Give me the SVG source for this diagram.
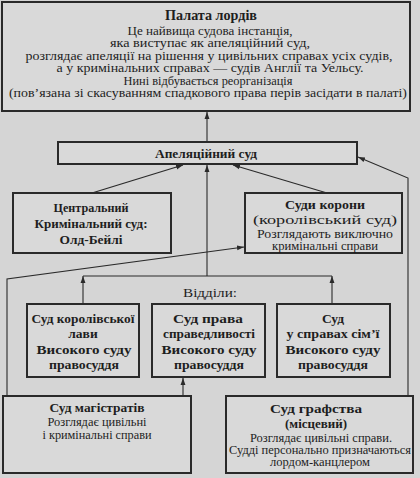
<svg xmlns="http://www.w3.org/2000/svg" width="420" height="478" viewBox="0 0 420 478">
<defs>
<style>
.bg{fill:#d5d5d5}
.box{fill:#d9d9d9;stroke:#2a2a2a;stroke-width:2}
.ln{fill:none;stroke:#2a2a2a;stroke-width:1.1}
text{font-family:'Liberation Serif','Times New Roman','DejaVu Serif',serif;fill:#1e1e1e;text-anchor:middle}
.t{font-size:14px;font-weight:bold}
.r{font-size:12.5px}
.s{font-size:11.5px}
.b{font-size:13.5px;font-weight:bold}
</style>
<marker id="ar" viewBox="0 0 10 10" refX="10" refY="5" markerWidth="7" markerHeight="7" orient="auto" markerUnits="userSpaceOnUse">
<path d="M0,1.5 L10,5 L0,8.5 Z" fill="#2a2a2a"/>
</marker>
</defs>
<rect class="bg" x="0" y="0" width="420" height="478"/>

<g id="connectors">
<line class="ln" x1="207" y1="142" x2="207" y2="112" marker-end="url(#ar)"/>
<line class="ln" x1="92" y1="193" x2="183" y2="165" marker-end="url(#ar)"/>
<line class="ln" x1="327" y1="193" x2="233" y2="165" marker-end="url(#ar)"/>
<line class="ln" x1="207" y1="276" x2="207" y2="165" marker-end="url(#ar)"/>
<line class="ln" x1="83" y1="276" x2="332" y2="276"/>
<line class="ln" x1="83" y1="304" x2="83" y2="276" marker-end="url(#ar)"/>
<line class="ln" x1="332" y1="304" x2="332" y2="276" marker-end="url(#ar)"/>
<polyline class="ln" points="7,396 7,279 244,247" marker-end="url(#ar)"/>
<line class="ln" x1="183" y1="396" x2="183" y2="378" marker-end="url(#ar)"/>
<polyline class="ln" points="408,396 408,178 358,157" marker-end="url(#ar)"/>
</g>

<g id="palata">
<rect class="box" x="2" y="2" width="408" height="109"/>
<text class="t" x="211" y="20" textLength="92" lengthAdjust="spacingAndGlyphs">Палата лордів</text>
<text class="r" x="210" y="34.5" textLength="165" lengthAdjust="spacingAndGlyphs">Це найвища судова інстанція,</text>
<text class="r" x="210" y="47" textLength="200" lengthAdjust="spacingAndGlyphs">яка виступає як апеляційний суд,</text>
<text class="r" x="209" y="59.5" textLength="367" lengthAdjust="spacingAndGlyphs">розглядає апеляції на рішення у цивільних справах усіх судів,</text>
<text class="r" x="210" y="72" textLength="307" lengthAdjust="spacingAndGlyphs">а у кримінальних справах — судів Англії та Уельсу.</text>
<text class="r" x="208" y="84.5" textLength="169" lengthAdjust="spacingAndGlyphs">Нині відбувається реорганізація</text>
<text class="r" x="208" y="97" textLength="398" lengthAdjust="spacingAndGlyphs">(пов’язана зі скасуванням спадкового права перів засідати в палаті)</text>
</g>

<g id="apel">
<rect class="box" x="58" y="142" width="299" height="22"/>
<text class="b" x="206" y="158" textLength="102" lengthAdjust="spacingAndGlyphs">Апеляційний суд</text>
</g>

<g id="central">
<rect class="box" x="13" y="193" width="158" height="60"/>
<text class="b" x="91" y="212" textLength="75" lengthAdjust="spacingAndGlyphs">Центральний</text>
<text class="b" x="91" y="228" textLength="113" lengthAdjust="spacingAndGlyphs">Кримінальний суд:</text>
<text class="b" x="91" y="244" textLength="63" lengthAdjust="spacingAndGlyphs">Олд-Бейлі</text>
</g>

<g id="korony">
<rect class="box" x="245" y="193" width="157" height="60"/>
<text class="b" x="325" y="209" textLength="80" lengthAdjust="spacingAndGlyphs">Суди корони</text>
<text class="r" x="325" y="224" style="font-size:13.5px" textLength="144" lengthAdjust="spacingAndGlyphs">(королівський суд)</text>
<text class="s" x="325" y="238" textLength="136" lengthAdjust="spacingAndGlyphs">Розглядають виключно</text>
<text class="s" x="325" y="250" textLength="106" lengthAdjust="spacingAndGlyphs">кримінальні справи</text>
</g>

<text class="r" x="210" y="297" style="font-size:13.5px" textLength="54" lengthAdjust="spacingAndGlyphs">Відділи:</text>

<g id="kings-bench">
<rect class="box" x="27" y="304" width="112" height="73"/>
<text class="b" x="83" y="323" textLength="103" lengthAdjust="spacingAndGlyphs">Суд королівської</text>
<text class="b" x="83" y="338">лави</text>
<text class="b" x="84" y="354" textLength="95" lengthAdjust="spacingAndGlyphs">Високого суду</text>
<text class="b" x="84" y="369" textLength="70" lengthAdjust="spacingAndGlyphs">правосуддя</text>
</g>

<g id="chancery">
<rect class="box" x="152" y="304" width="113" height="73"/>
<text class="b" x="208" y="323" textLength="70" lengthAdjust="spacingAndGlyphs">Суд права</text>
<text class="b" x="209" y="338" textLength="92" lengthAdjust="spacingAndGlyphs">справедливості</text>
<text class="b" x="209" y="354" textLength="95" lengthAdjust="spacingAndGlyphs">Високого суду</text>
<text class="b" x="209" y="369" textLength="70" lengthAdjust="spacingAndGlyphs">правосуддя</text>
</g>

<g id="family">
<rect class="box" x="277" y="304" width="113" height="73"/>
<text class="b" x="333" y="323">Суд</text>
<text class="b" x="333" y="338" textLength="93" lengthAdjust="spacingAndGlyphs">у справах сім’ї</text>
<text class="b" x="333" y="354" textLength="95" lengthAdjust="spacingAndGlyphs">Високого суду</text>
<text class="b" x="333" y="369" textLength="70" lengthAdjust="spacingAndGlyphs">правосуддя</text>
</g>

<g id="magistrates">
<rect class="box" x="3" y="396" width="188" height="77"/>
<text class="b" x="97" y="412" textLength="95" lengthAdjust="spacingAndGlyphs">Суд магістратів</text>
<text class="r" x="97" y="425.5" style="font-size:12px" textLength="99" lengthAdjust="spacingAndGlyphs">Розглядає цивільні</text>
<text class="r" x="97" y="438.5" style="font-size:12px" textLength="109" lengthAdjust="spacingAndGlyphs">і кримінальні справи</text>
</g>

<g id="county">
<rect class="box" x="226" y="396" width="187" height="77"/>
<text class="b" x="316" y="413" textLength="92" lengthAdjust="spacingAndGlyphs">Суд графства</text>
<text class="b" x="316" y="428" textLength="62" lengthAdjust="spacingAndGlyphs">(місцевий)</text>
<text class="s" x="321" y="442" textLength="142" lengthAdjust="spacingAndGlyphs">Розглядає цивільні справи.</text>
<text class="s" x="320" y="454" textLength="182" lengthAdjust="spacingAndGlyphs">Судді персонально призначаються</text>
<text class="s" x="320" y="466" textLength="100" lengthAdjust="spacingAndGlyphs">лордом-канцлером</text>
</g>
</svg>
